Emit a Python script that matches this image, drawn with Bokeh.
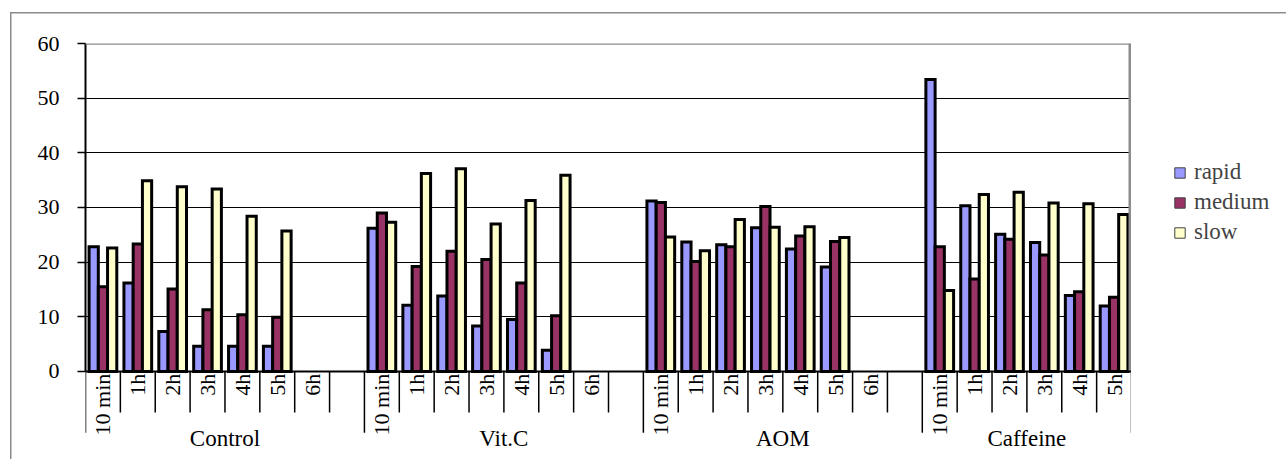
import math

from bokeh.core.properties import value
from bokeh.embed import file_html
from bokeh.layouts import row
from bokeh.models import (ColumnDataSource, FactorRange, FixedTicker,
                          Legend, LegendItem, Range1d, Span)
from bokeh.plotting import figure
from bokeh.resources import INLINE
from bokeh.transform import dodge

# ---- data -------------------------------------------------------------
groups = ["Control", "Vit.C", "AOM", "Caffeine"]
times = ["10 min", "1h", "2h", "3h", "4h", "5h", "6h"]
n_times = [7, 7, 7, 6]          # time points per group

#          10 min  1h    2h    3h    4h    5h    6h
rapid = [22.8, 16.2, 7.3, 4.6, 4.6, 4.6, None,      # Control
         26.2, 12.1, 13.8, 8.3, 9.5, 3.9, None,     # Vit.C
         31.2, 23.7, 23.2, 26.3, 22.4, 19.1, None,  # AOM
         53.4, 30.3, 25.1, 23.6, 13.9, 12.0]        # Caffeine
medium = [15.5, 23.3, 15.1, 11.3, 10.4, 9.9, None,
          29.0, 19.2, 22.0, 20.5, 16.2, 10.2, None,
          30.9, 20.1, 22.8, 30.2, 24.8, 23.8, None,
          22.8, 16.9, 24.2, 21.3, 14.6, 13.6]
slow = [22.6, 34.9, 33.8, 33.4, 28.4, 25.7, None,
        27.3, 36.2, 37.1, 27.0, 31.3, 35.9, None,
        24.6, 22.1, 27.8, 26.4, 26.5, 24.5, None,
        14.8, 32.4, 32.8, 30.8, 30.7, 28.7]

y_ticks = [0, 10, 20, 30, 40, 50, 60]

series = [("rapid", rapid, "#9999FF"),
          ("medium", medium, "#993366"),
          ("slow", slow, "#FFFFCC")]

# ---- categories: each group is followed by an empty slot, except the last
points = [(g, t) for g, n in zip(groups, n_times) for t in times[:n]]
factors = []
for g, n in zip(groups, n_times):
    factors += [(g, t) for t in times[:n]]
    if g != groups[-1]:
        factors.append((g, ""))

FONT = value("Liberation Serif")
GRAY = "#8c8c8c"


def border_css(left=True):
    """Thin gray chart-area border painted behind a transparent border fill."""
    imgs = [f"linear-gradient({GRAY}, {GRAY})"]
    pos = ["0px 12px"]
    size = ["100% 1.5px"]
    if left:
        imgs.append(f"linear-gradient({GRAY}, {GRAY})")
        pos = ["10px 12px", "10px 12px"]
        size = ["100% 1.5px", "1.5px 100%"]
    return {"background-image": ", ".join(imgs),
            "background-position": ", ".join(pos),
            "background-size": ", ".join(size),
            "background-repeat": "no-repeat",
            "background-color": "white"}


x_range = FactorRange(*factors, group_padding=0, factor_padding=0, range_padding=0)
p = figure(width=1131, height=459, x_range=x_range, y_range=Range1d(-16.1, 60),
           output_backend="svg", toolbar_location=None,
           min_border_left=85, min_border_right=0, min_border_top=43, min_border_bottom=0,
           styles=border_css(left=True))
p.outline_line_color = None
p.background_fill_color = "white"
p.border_fill_color = None

# ---- axes / grid
p.xaxis.visible = False
p.xgrid.visible = False
p.ygrid.ticker = FixedTicker(ticks=y_ticks[1:-1])
p.ygrid.grid_line_color = "black"
p.ygrid.grid_line_width = 1.2

ax = p.yaxis[0]
ax.ticker = FixedTicker(ticks=y_ticks)
ax.bounds = (0, 60)
ax.axis_line_color = "black"
ax.axis_line_width = 2
ax.major_tick_out = 8
ax.major_tick_in = 0
ax.major_tick_line_width = 1.5
ax.major_tick_line_color = "black"
ax.minor_tick_line_color = None
ax.major_label_standoff = 18
ax.major_label_text_font = "Liberation Serif"
ax.major_label_text_font_size = "22px"
ax.major_label_text_color = "black"

# ---- bars
keep = [i for i, v in enumerate(rapid) if v is not None]
src = ColumnDataSource(dict(
    x=[points[i] for i in keep],
    **{name: [vals[i] for i in keep] for name, vals, _ in series}))
bw = 0.265
for k, (name, _, color) in enumerate(series):
    p.vbar(x=dodge("x", (k - 1) * bw, range=p.x_range), top=name, bottom=0, width=bw,
           source=src, fill_color=color, line_color="black", line_width=3,
           line_join="miter")

# ---- plot area borders
p.add_layout(Span(location=60, dimension="width", line_color=GRAY, line_width=2.5))
p.add_layout(Span(location=0, dimension="width", line_color="black", line_width=2))
last = factors[-1]
p.segment(x0=[[last[0], last[1], 0.5]], x1=[[last[0], last[1], 0.5]], y0=[0], y1=[60],
          line_color=GRAY, line_width=6)

# ---- category axis drawn below the baseline
SHORT, LONG = -7.5, -11.2
sep_x, sep_end = [], []
for i, f in enumerate(factors):
    first = i == 0 or factors[i - 1][0] != f[0]
    sep_x.append([f[0], f[1], -0.5])
    sep_end.append(LONG if first else SHORT)
sep_x.append([last[0], last[1], 0.5])
sep_end.append(LONG)
p.segment(x0="x", x1="x", y0=0, y1="y1",
          source=ColumnDataSource(dict(x=sep_x, y1=sep_end)),
          line_color="black", line_width=1.5)

p.text(x="x", y=-0.4, text="t", angle=math.pi / 2,
       source=ColumnDataSource(dict(x=points, t=[t for _, t in points])),
       text_align="right", text_baseline="middle", text_font=FONT,
       text_font_size="22px", text_color="black")
p.text(x="g", y=-12.3, text="g", source=ColumnDataSource(dict(g=groups)),
       text_align="center", text_baseline="alphabetic", text_font=FONT,
       text_font_size="23px", text_color="black")

# ---- legend panel to the right of the plot area
lp = figure(width=155, height=459, x_range=Range1d(0, 1), y_range=Range1d(0, 1),
            output_backend="svg", toolbar_location=None,
            min_border_left=0, min_border_right=0, min_border_top=0, min_border_bottom=0,
            styles=border_css(left=False))
lp.axis.visible = False
lp.grid.visible = False
lp.outline_line_color = None
lp.background_fill_color = None
lp.border_fill_color = None

items = []
for name, _, color in series:
    # swatch-only renderer: nothing lands inside the range
    r = lp.vbar(x=[float("nan")], top=[float("nan")], width=0.5, fill_color=color,
                line_color="#404040", line_width=1)
    items.append(LegendItem(label=name, renderers=[r]))
legend = Legend(items=items, location=(42, 212), padding=0, margin=0, spacing=0,
                glyph_width=13, glyph_height=13, label_height=30, label_standoff=8,
                label_text_font="Liberation Serif", label_text_font_size="23px",
                border_line_color=None, background_fill_alpha=0)
lp.add_layout(legend)

layout = row(p, lp, spacing=0)
open("out.html", "w").write(file_html(layout, INLINE))
